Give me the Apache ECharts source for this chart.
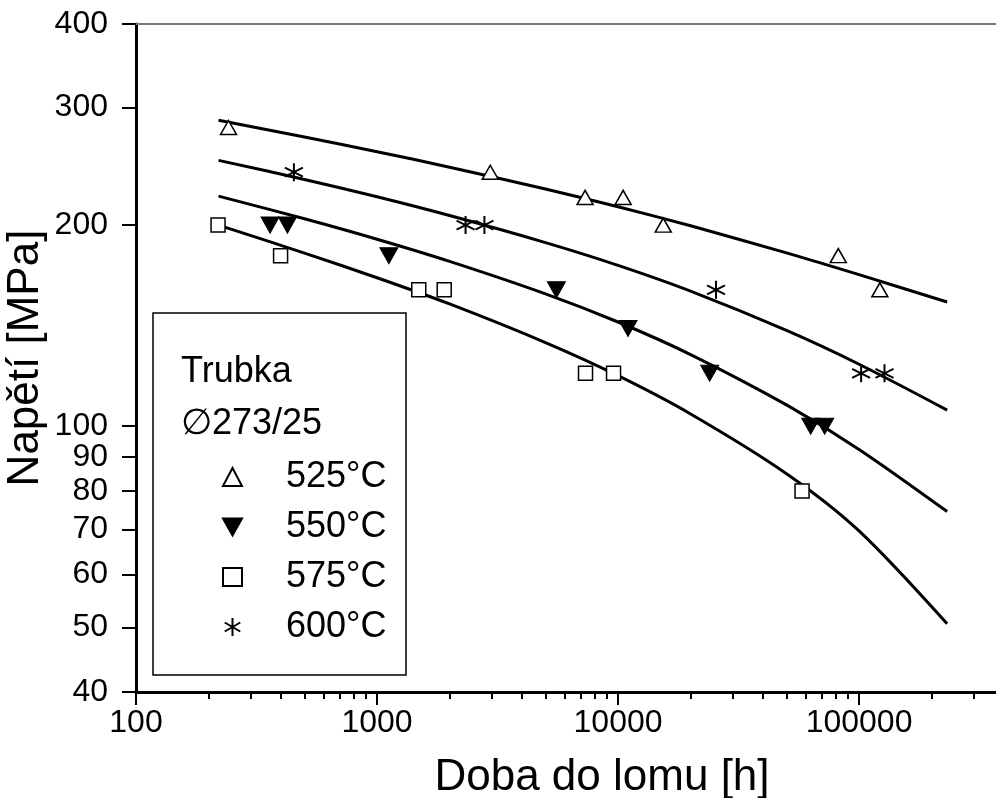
<!DOCTYPE html>
<html>
<head>
<meta charset="utf-8">
<script src="https://cdn.jsdelivr.net/npm/echarts@6/dist/echarts.min.js"></script>
<style>
html, body { margin: 0; padding: 0; background: #fff; }
#chart { width: 996px; height: 798px; }
</style>
</head>
<body>
<div id="chart"></div>
<script>
// measured points: time to rupture [h] / stress [MPa]
const hours525 = [242, 2950, 7300, 10500, 15400, 82000, 122000]
const stress525 = [280, 240, 220, 220, 200, 180, 160]
const hours550 = [360, 425, 1120, 5550, 11000, 24000, 63000, 72000]
const stress550 = [200, 200, 180, 160, 140, 120, 100, 100]
const hours575 = [219, 398, 1490, 1900, 7330, 9580, 58000]
const stress575 = [200, 180, 160, 160, 120, 120, 80]
const hours600 = [452, 2330, 2790, 25500, 102000, 127500]
const stress600 = [240, 200, 200, 160, 120, 120]

// fitted curves
const fitHours = [220, 500, 1000, 2000, 5000, 10000, 20000, 50000, 100000, 232000]
const fitStress525 = [287, 271, 257.6, 244.2, 226.5, 213.1, 199.5, 181.7, 168.6, 153.4]
const fitStress550 = [221, 204.4, 190.5, 176.5, 157.8, 143.2, 128, 107.6, 92.3, 74.5]
const fitStress575 = [200, 181.6, 166.8, 152.4, 133.4, 119, 104.3, 84.9, 69.7, 50.6]
const fitStress600 = [250, 234.1, 220.5, 206.7, 188.3, 174.1, 159.3, 139.1, 123.8, 105.7]

// tick labels
const xMajorTicks = [100, 1000, 10000, 100000]
const xMinorTicks = [200, 300, 400, 500, 600, 700, 800, 900,
    2000, 3000, 4000, 5000, 6000, 7000, 8000, 9000,
    20000, 30000, 40000, 50000, 60000, 70000, 80000, 90000,
    200000, 300000]
const yTicks = [40, 50, 60, 70, 80, 90, 100, 200, 300, 400]

const font = '"Liberation Sans", Arial, sans-serif'
const asterisk = 'path://M10,0L10,20M1.34,5L18.66,15M1.34,15L18.66,5'
const downTriangle = 'path://M0,0L18,0L9,16Z'

function pairs(xs, ys) {
    return xs.map((x, i) => [x, ys[i]])
}

const markerDefs = [
    { name: '525°C', x: hours525, y: stress525, symbol: 'triangle', size: [16, 14], fill: '#fff', border: 1.5 },
    { name: '550°C', x: hours550, y: stress550, symbol: downTriangle, size: [18, 16], fill: '#000', border: 1 },
    { name: '575°C', x: hours575, y: stress575, symbol: 'rect', size: [14, 14], fill: '#fff', border: 1.5 },
    { name: '600°C', x: hours600, y: stress600, symbol: asterisk, size: [18, 18], fill: '#000', border: 2 }
]
const fits = [fitStress525, fitStress550, fitStress575, fitStress600]

const series = []
fits.forEach(function (ys) {
    series.push({
        type: 'line',
        data: pairs(fitHours, ys),
        smooth: 0.3,
        showSymbol: false,
        silent: true,
        lineStyle: { color: '#000', width: 3 },
        z: 2
    })
})
markerDefs.forEach(function (m) {
    series.push({
        name: m.name,
        type: 'scatter',
        data: pairs(m.x, m.y),
        symbol: m.symbol,
        symbolSize: m.size,
        itemStyle: { color: m.fill, borderColor: '#000', borderWidth: m.border, opacity: 1 },
        z: 5
    })
})

const xBase = {
    type: 'log',
    min: 100,
    max: 370000,
    splitLine: { show: false }
}
const plain = v => String(Math.round(v))

const chart = echarts.init(document.getElementById('chart'))
chart.setOption({
    animation: false,
    backgroundColor: '#fff',
    grid: { left: 136, right: 0, top: 24, bottom: 106, containLabel: false, outerBoundsMode: 'none' },
    legend: {
        orient: 'vertical',
        left: 217,
        top: 454,
        z: 20,
        itemWidth: 19,
        itemHeight: 18,
        itemGap: 14,
        data: markerDefs.map(m => m.name),
        textStyle: { fontFamily: font, fontSize: 36, lineHeight: 36, color: '#000', padding: [0, 0, 0, 39] },
        selectedMode: false
    },
    graphic: [
        { type: 'rect', shape: { x: 153, y: 313, width: 253, height: 362 }, style: { fill: 'none', stroke: '#000', lineWidth: 1.5 }, z: 1 },
        { type: 'text', left: 181, top: 354, style: { text: 'Trubka', font: '36px ' + font, fill: '#000' }, z: 1 },
        { type: 'text', left: 181, top: 406, style: { text: '∅273/25', font: '36px ' + font, fill: '#000' }, z: 1 }
    ],
    xAxis: [
        Object.assign({}, xBase, {
            position: 'bottom',
            name: 'Doba do lomu [h]',
            nameLocation: 'middle',
            nameGap: 64,
            nameMoveOverlap: false,
            nameTextStyle: { fontFamily: font, fontSize: 44, color: '#000', padding: [0, 0, 0, 72] },
            axisLine: { lineStyle: { color: '#000', width: 3 } },
            axisTick: { show: true, length: 13, lineStyle: { color: '#000', width: 2 }, customValues: xMajorTicks },
            axisLabel: { fontFamily: font, fontSize: 32, color: '#000', margin: 15, formatter: plain, customValues: xMajorTicks }
        }),
        Object.assign({}, xBase, {
            position: 'bottom',
            axisLine: { show: false },
            axisTick: { show: true, length: 7, lineStyle: { color: '#000', width: 2 }, customValues: xMinorTicks },
            axisLabel: { show: false }
        }),
        Object.assign({}, xBase, {
            position: 'top',
            axisLine: { lineStyle: { color: '#777', width: 2 } },
            axisTick: { show: false },
            axisLabel: { show: false }
        })
    ],
    yAxis: {
        type: 'log',
        min: 40,
        max: 400,
        name: 'Napětí [MPa]',
        nameLocation: 'middle',
        nameGap: 88,
        nameMoveOverlap: false,
        nameTextStyle: { fontFamily: font, fontSize: 44, color: '#000' },
        splitLine: { show: false },
        axisLine: { lineStyle: { color: '#000', width: 3 } },
        axisTick: { show: true, length: 14, lineStyle: { color: '#000', width: 2 }, customValues: yTicks },
        axisLabel: { fontFamily: font, fontSize: 32, color: '#000', margin: 28, formatter: plain, customValues: yTicks }
    },
    series: series
})
</script>
</body>
</html>
